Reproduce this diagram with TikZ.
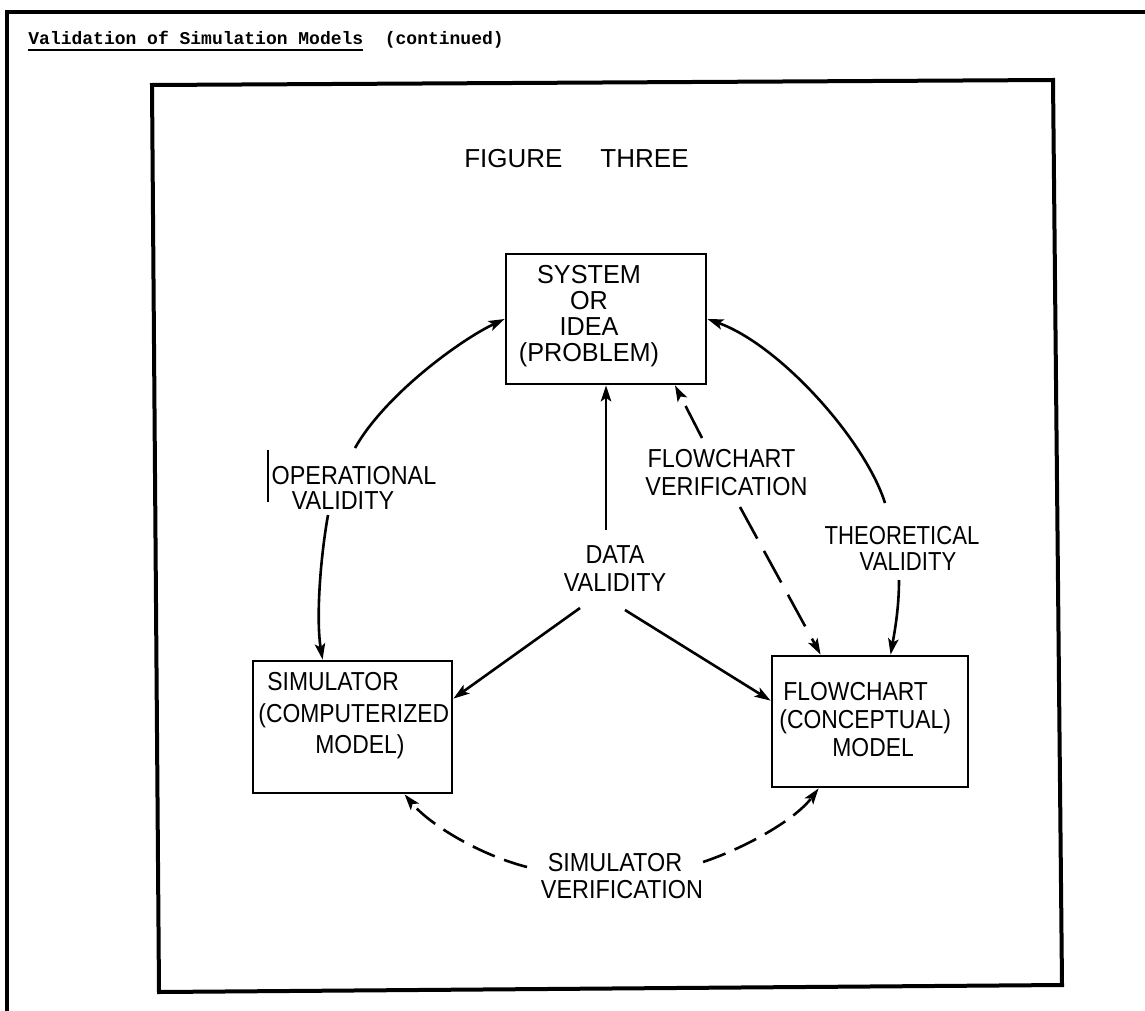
\documentclass[tikz,border=0pt]{standalone}
\usepackage{fontspec}
\setmainfont{Liberation Sans}
\newfontfamily\hdrfont{Liberation Mono}
\newfontfamily\lblfont[FakeStretch=0.9]{Liberation Sans}
\newfontfamily\thinfont[FakeStretch=0.85]{Liberation Sans}
\newfontfamily\boxfont[FakeStretch=0.88]{Liberation Sans}
\newfontfamily\sysfont[FakeStretch=0.97]{Liberation Sans}
\usetikzlibrary{arrows.meta,calc}
% underlined running head
\newcommand\ulbar[1]{\vtop{\hbox{#1}\kern2pt\hrule height 1pt}}

\begin{document}
\begin{tikzpicture}[x=0.5pt,y=-0.5pt,
  pageline/.style={line width=1.6pt},
  frameline/.style={line width=2pt, line join=miter},
  blk/.style={draw, line width=1.4pt, inner sep=0pt},
  txt/.style={inner sep=0pt, align=center},
  con/.style={line width=1.3pt, -{Stealth[length=8pt,width=5.2pt,inset=1.8pt]}},
  dashlong/.style={con, dash pattern=on 18pt off 7pt},
  dashshort/.style={con, dash pattern=on 12pt off 5pt}]

\useasboundingbox (0,0) rectangle (1145,1011);

% page edge and running head
\draw[pageline] (1145,12) -- (7,12) -- (7,1011);
\node[anchor=base west, inner sep=0pt, font=\hdrfont\bfseries\fontsize{9}{10}\selectfont] (hdr) at (28,45)
  {\ulbar{Validation of Simulation Models}\ \ (continued)};

% figure frame
\draw[frameline] (152,85) -- (1053,80) -- (1062,985) -- (159,992) -- cycle;

% title
\node[anchor=base east, inner sep=0pt, font=\fontsize{13}{14}\selectfont] (title) at (689,168)
  {FIGURE\hspace{19pt}THREE};

% boxes
\node[blk, minimum width=100pt, minimum height=65pt] (sys) at (606,319) {};
\node[txt, anchor=north, font=\sysfont\fontsize{13}{13}\selectfont] (systxt) at (589,265)
  {SYSTEM\\OR\\IDEA\\(PROBLEM)};

\node[blk, minimum width=99.5pt, minimum height=66pt] (sim) at (352.5,727) {};
\node[txt, align=left, anchor=north west, font=\boxfont\fontsize{13}{15.75}\selectfont] (simtxt) at (258,672)
  {\hspace*{4.5pt}SIMULATOR\\(COMPUTERIZED\\\hspace*{28.5pt}MODEL)};

\node[blk, minimum width=98pt, minimum height=65.5pt] (flow) at (870,721.5) {};
\node[txt, align=left, anchor=north west, font=\boxfont\fontsize{13}{14}\selectfont] (flowtxt) at (779,682)
  {\hspace*{2pt}FLOWCHART\\(CONCEPTUAL)\\\hspace*{26.5pt}MODEL};

% labels
\node[txt, font=\lblfont\fontsize{13}{12.5}\selectfont] (oplbl) at (354,487.5)
  {OPERATIONAL\\VALIDITY\hspace*{11pt}};
\draw[line width=0.8pt] (268,450) -- (268,502);
\node[txt, font=\lblfont\fontsize{13}{14}\selectfont] (dtlbl) at (615,568.5)
  {DATA\\VALIDITY};
\node[txt, font=\lblfont\fontsize{13}{14}\selectfont] (fvlbl) at (721.5,472.5)
  {FLOWCHART\\\hspace*{5pt}VERIFICATION};
\node[txt, font=\thinfont\fontsize{13}{13}\selectfont] (thlbl) at (902,548.5)
  {THEORETICAL\\\hspace*{6pt}VALIDITY};
\node[txt, font=\lblfont\fontsize{13}{13.5}\selectfont] (svlbl) at (615,876.5)
  {SIMULATOR\\\hspace*{7pt}VERIFICATION};

% free ends of the connectors, next to their labels
\coordinate (opA) at (355,448);
\coordinate (opB) at (328,515);
\coordinate (thA) at (885,503);
\coordinate (thB) at (899,580);
\coordinate (dtU) at (606,530);
\coordinate (dtL) at (580,608);
\coordinate (dtR) at (625,610);
\coordinate (fvA) at (702,438);
\coordinate (fvB) at (740,507);
\coordinate (svL) at (527,867);
\coordinate (svR) at (703,862);

% operational validity
\draw[con] (opA) .. controls (385,395) and (460,340) .. (sys.west);
\draw[con] (opB) .. controls (320,560) and (316,620) .. ($(sim.north west)+(71,0)$);
% theoretical validity
\draw[con] (thA) .. controls (865,440) and (780,345) .. (sys.east);
\draw[con] (thB) .. controls (899,610) and (894,635) .. ($(flow.north west)+(120,0)$);
% data validity
\draw[con] (dtU) -- (sys.south);
\draw[con] (dtL) -- ($(sim.north east)+(0,39)$);
\draw[con] (dtR) -- ($(flow.north west)+(0,46)$);
% flowchart verification
\draw[dashlong] (fvA) -- ($(sys.south)+(69,0)$);
\draw[dashlong] (fvB) -- ($(flow.north west)+(50,0)$);
% simulator verification
\draw[dashshort] (svL) .. controls (480,855) and (430,825) .. ($(sim.south west)+(153,0)$);
\draw[dashshort] (svR) .. controls (745,848) and (795,820) .. ($(flow.south west)+(48,0)$);
\end{tikzpicture}
\end{document}
